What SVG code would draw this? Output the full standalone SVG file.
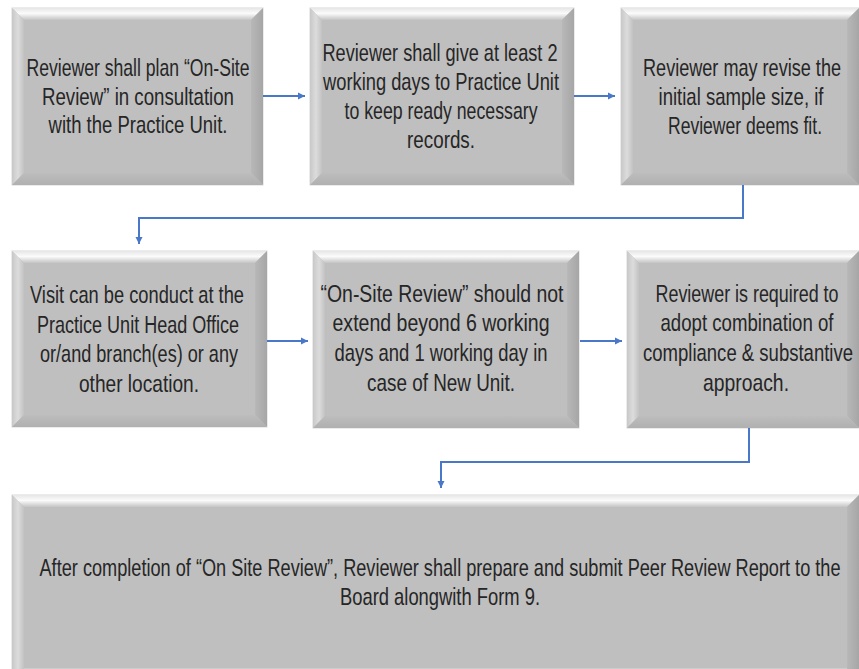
<svg xmlns="http://www.w3.org/2000/svg" width="859" height="669" viewBox="0 0 859 669">
<defs>
<linearGradient id="topG" x1="0" y1="0" x2="0" y2="1">
<stop offset="0" stop-color="#e6e6e6"/><stop offset="0.45" stop-color="#fbfbfb"/><stop offset="1" stop-color="#c4c4c4"/>
</linearGradient>
<linearGradient id="leftG" x1="0" y1="0" x2="1" y2="0">
<stop offset="0" stop-color="#c8c8c8"/><stop offset="0.5" stop-color="#dcdcdc"/><stop offset="1" stop-color="#c2c2c2"/>
</linearGradient>
<linearGradient id="rightG" x1="0" y1="0" x2="1" y2="0">
<stop offset="0" stop-color="#b8b8b8"/><stop offset="1" stop-color="#a6a6a6"/>
</linearGradient>
<linearGradient id="botG" x1="0" y1="0" x2="0" y2="1">
<stop offset="0" stop-color="#bdbdbd"/><stop offset="1" stop-color="#b0b0b0"/>
</linearGradient>
<marker id="ah" markerWidth="8" markerHeight="8" refX="7" refY="4" orient="auto" markerUnits="userSpaceOnUse">
<path d="M0,0.5 L7,4 L0,7.5 Z" fill="#4a78c8"/>
</marker>
</defs>
<style>
.base{fill:#bfbfbf;stroke:#d8d8d8;stroke-width:1}
.top{fill:url(#topG)}
.lft{fill:url(#leftG)}
.rgt{fill:url(#rightG)}
.bot{fill:url(#botG)}
text{font-family:"Liberation Sans",Arial,sans-serif;font-size:16px;fill:#262626;text-anchor:middle}
.conn{fill:none;stroke:#4a78c8;stroke-width:2}
</style>
<rect width="859" height="669" fill="#ffffff"/>

<g id="node1">
<rect class="base" x="12" y="8" width="251" height="177"/>
<polygon class="top" points="12,8 263,8 251,20 24,20"/>
<polygon class="lft" points="12,8 24,20 24,173 12,185"/>
<polygon class="rgt" points="263,8 263,185 251,173 251,20"/>
<polygon class="bot" points="12,185 263,185 251,173 24,173"/>
<text transform="translate(138,76) scale(1,1.5)" textLength="223" lengthAdjust="spacingAndGlyphs">Reviewer shall plan “On-Site</text>
<text transform="translate(138,105) scale(1,1.5)" textLength="192" lengthAdjust="spacingAndGlyphs">Review” in consultation</text>
<text transform="translate(138,133) scale(1,1.5)" textLength="179" lengthAdjust="spacingAndGlyphs">with the Practice Unit.</text>
</g>

<g id="node2">
<rect class="base" x="310" y="8" width="264" height="177"/>
<polygon class="top" points="310,8 574,8 562,20 322,20"/>
<polygon class="lft" points="310,8 322,20 322,173 310,185"/>
<polygon class="rgt" points="574,8 574,185 562,173 562,20"/>
<polygon class="bot" points="310,185 574,185 562,173 322,173"/>
<text transform="translate(440,61) scale(1,1.5)" textLength="235" lengthAdjust="spacingAndGlyphs">Reviewer shall give at least 2</text>
<text transform="translate(441,90) scale(1,1.5)" textLength="236" lengthAdjust="spacingAndGlyphs">working days to Practice Unit</text>
<text transform="translate(441,119) scale(1,1.5)" textLength="193" lengthAdjust="spacingAndGlyphs">to keep ready necessary</text>
<text transform="translate(441,148) scale(1,1.5)" textLength="68" lengthAdjust="spacingAndGlyphs">records.</text>
</g>

<g id="node3">
<rect class="base" x="621" y="8" width="238" height="177"/>
<polygon class="top" points="621,8 859,8 847,20 633,20"/>
<polygon class="lft" points="621,8 633,20 633,173 621,185"/>
<polygon class="rgt" points="859,8 859,185 847,173 847,20"/>
<polygon class="bot" points="621,185 859,185 847,173 633,173"/>
<text transform="translate(742,76) scale(1,1.5)" textLength="198" lengthAdjust="spacingAndGlyphs">Reviewer may revise the</text>
<text transform="translate(741,105) scale(1,1.5)" textLength="165" lengthAdjust="spacingAndGlyphs">initial sample size, if</text>
<text transform="translate(745,134) scale(1,1.5)" textLength="154" lengthAdjust="spacingAndGlyphs">Reviewer deems fit.</text>
</g>

<g id="node4">
<rect class="base" x="12" y="251" width="255" height="176"/>
<polygon class="top" points="12,251 267,251 255,263 24,263"/>
<polygon class="lft" points="12,251 24,263 24,415 12,427"/>
<polygon class="rgt" points="267,251 267,427 255,415 255,263"/>
<polygon class="bot" points="12,427 267,427 255,415 24,415"/>
<text transform="translate(137,303) scale(1,1.5)" textLength="214" lengthAdjust="spacingAndGlyphs">Visit can be conduct at the</text>
<text transform="translate(138,333) scale(1,1.5)" textLength="202" lengthAdjust="spacingAndGlyphs">Practice Unit Head Office</text>
<text transform="translate(139,362) scale(1,1.5)" textLength="198" lengthAdjust="spacingAndGlyphs">or/and branch(es) or any</text>
<text transform="translate(139,392) scale(1,1.5)" textLength="120" lengthAdjust="spacingAndGlyphs">other location.</text>
</g>

<g id="node5">
<rect class="base" x="313" y="251" width="266" height="177"/>
<polygon class="top" points="313,251 579,251 567,263 325,263"/>
<polygon class="lft" points="313,251 325,263 325,416 313,428"/>
<polygon class="rgt" points="579,251 579,428 567,416 567,263"/>
<polygon class="bot" points="313,428 579,428 567,416 325,416"/>
<text transform="translate(442,302) scale(1,1.5)" textLength="243" lengthAdjust="spacingAndGlyphs">“On-Site Review” should not</text>
<text transform="translate(441,331) scale(1,1.5)" textLength="217" lengthAdjust="spacingAndGlyphs">extend beyond 6 working</text>
<text transform="translate(441,361) scale(1,1.5)" textLength="213" lengthAdjust="spacingAndGlyphs">days and 1 working day in</text>
<text transform="translate(441,391) scale(1,1.5)" textLength="148" lengthAdjust="spacingAndGlyphs">case of New Unit.</text>
</g>

<g id="node6">
<rect class="base" x="627" y="251" width="232" height="177"/>
<polygon class="top" points="627,251 859,251 847,263 639,263"/>
<polygon class="lft" points="627,251 639,263 639,416 627,428"/>
<polygon class="rgt" points="859,251 859,428 847,416 847,263"/>
<polygon class="bot" points="627,428 859,428 847,416 639,416"/>
<text transform="translate(747,302) scale(1,1.5)" textLength="183" lengthAdjust="spacingAndGlyphs">Reviewer is required to</text>
<text transform="translate(747,331) scale(1,1.5)" textLength="173" lengthAdjust="spacingAndGlyphs">adopt combination of</text>
<text transform="translate(748,361) scale(1,1.5)" textLength="210" lengthAdjust="spacingAndGlyphs">compliance &amp; substantive</text>
<text transform="translate(746,391) scale(1,1.5)" textLength="86" lengthAdjust="spacingAndGlyphs">approach.</text>
</g>

<g id="node7">
<rect class="base" x="12" y="495" width="847" height="174"/>
<polygon class="top" points="12,495 859,495 847,507 24,507"/>
<polygon class="lft" points="12,495 24,507 24,669 12,669"/>
<polygon class="rgt" points="859,495 859,669 847,669 847,507"/>
<text transform="translate(440,576) scale(1,1.5)" textLength="801" lengthAdjust="spacingAndGlyphs">After completion of “On Site Review”, Reviewer shall prepare and submit Peer Review Report to the</text>
<text transform="translate(440,605) scale(1,1.5)" textLength="200" lengthAdjust="spacingAndGlyphs">Board alongwith Form 9.</text>
</g>

<g id="connectors">
<path class="conn" d="M263,96 H305" marker-end="url(#ah)"/>
<path class="conn" d="M574,96 H615" marker-end="url(#ah)"/>
<path class="conn" d="M743,185 V218 H139 V244" marker-end="url(#ah)"/>
<path class="conn" d="M267,341 H308" marker-end="url(#ah)"/>
<path class="conn" d="M580,341 H622" marker-end="url(#ah)"/>
<path class="conn" d="M749,428 V462 H441 V488" marker-end="url(#ah)"/>
</g>
</svg>
